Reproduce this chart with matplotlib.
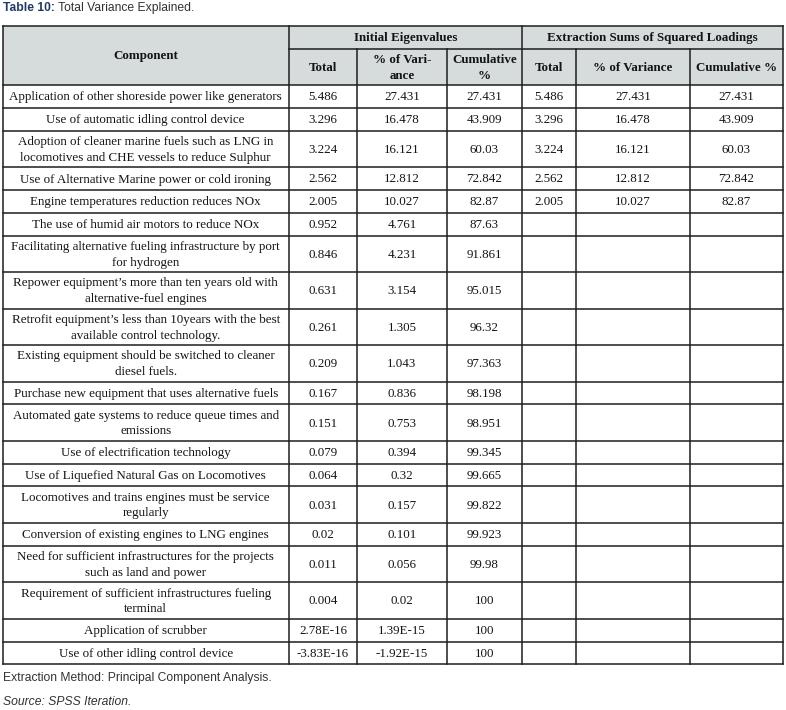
import matplotlib
matplotlib.use('Agg')
import matplotlib.pyplot as plt
from matplotlib.patches import Rectangle

# table content
components = [
    'Application of other shoreside power like generators',
    'Use of automatic idling control device',
    'Adoption of cleaner marine fuels such as LNG in\nlocomotives and CHE vessels to reduce Sulphur',
    'Use of Alternative Marine power or cold ironing',
    'Engine temperatures reduction reduces NOx',
    'The use of humid air motors to reduce NOx',
    'Facilitating alternative fueling infrastructure by port\nfor hydrogen',
    'Repower equipment\u2019s more than ten years old with\nalternative-fuel engines',
    'Retrofit equipment\u2019s less than 10years with the best\navailable control technology.',
    'Existing equipment should be switched to cleaner\ndiesel fuels.',
    'Purchase new equipment that uses alternative fuels',
    'Automated gate systems to reduce queue times and\nemissions',
    'Use of electrification technology',
    'Use of Liquefied Natural Gas on Locomotives',
    'Locomotives and trains engines must be service\nregularly',
    'Conversion of existing engines to LNG engines',
    'Need for sufficient infrastructures for the projects\nsuch as land and power',
    'Requirement of sufficient infrastructures fueling\nterminal',
    'Application of scrubber',
    'Use of other idling control device',
]
init_total = ['5.486', '3.296', '3.224', '2.562', '2.005', '0.952', '0.846', '0.631',
              '0.261', '0.209', '0.167', '0.151', '0.079', '0.064', '0.031', '0.02',
              '0.011', '0.004', '2.78E-16', '-3.83E-16']
init_pct = ['27.431', '16.478', '16.121', '12.812', '10.027', '4.761', '4.231', '3.154',
            '1.305', '1.043', '0.836', '0.753', '0.394', '0.32', '0.157', '0.101',
            '0.056', '0.02', '1.39E-15', '-1.92E-15']
init_cum = ['27.431', '43.909', '60.03', '72.842', '82.87', '87.63', '91.861', '95.015',
            '96.32', '97.363', '98.198', '98.951', '99.345', '99.665', '99.822', '99.923',
            '99.98', '100', '100', '100']
extr_total = ['5.486', '3.296', '3.224', '2.562', '2.005']
extr_pct = ['27.431', '16.478', '16.121', '12.812', '10.027']
extr_cum = ['27.431', '43.909', '60.03', '72.842', '82.87']

group_labels = ['Initial Eigenvalues', 'Extraction Sums of Squared Loadings']
sub_labels = ['Total', '% of Vari-\nance', 'Cumulative\n%',
              'Total', '% of Variance', 'Cumulative %']

caption_bold = 'Table 10:'
caption_rest = ' Total Variance Explained.'
note = 'Extraction Method: Principal Component Analysis.'
source = 'Source: SPSS Iteration.'

# layout (pixels)
W, H = 786, 710
col_x = [2.5, 289, 357, 447, 522, 576, 690, 783]
top, mid, head_bot = 26, 49, 85
h_single, h_double = 22.8, 36.5
line_col = '#1e1e1e'
text_col = '#141414'
head_fill = '#d6dcdc'
serif = ['Liberation Serif', 'DejaVu Serif']
sans = ['Liberation Sans', 'DejaVu Sans']
fs = 9.4
ls = 1.4
dy = 1.0  # small nudge down so glyphs sit centred in the cell

fig = plt.figure(figsize=(W / 100, H / 100), dpi=100)
ax = fig.add_axes([0, 0, 1, 1])
ax.set_xlim(0, W)
ax.set_ylim(H, 0)
ax.axis('off')

# row edges from number of lines in each component label
edges = [head_bot]
for c in components:
    edges.append(edges[-1] + (h_double if '\n' in c else h_single))
bottom = edges[-1]

ax.add_patch(Rectangle((col_x[0], top), col_x[-1] - col_x[0], head_bot - top,
                       facecolor=head_fill, edgecolor='none'))

lw = 1.1
ax.plot([col_x[0], col_x[-1]], [top, top], color=line_col, lw=lw)
ax.plot([col_x[1], col_x[-1]], [mid, mid], color=line_col, lw=lw)
for y in edges:
    ax.plot([col_x[0], col_x[-1]], [y, y], color=line_col, lw=lw)
for i, x in enumerate(col_x):
    y0 = top if i in (0, 1, 4, 7) else mid
    ax.plot([x, x], [y0, bottom], color=line_col, lw=lw)

# header text
ax.text((col_x[0] + col_x[1]) / 2, (top + head_bot) / 2 + dy, 'Component',
        ha='center', va='center', fontsize=fs, fontweight='bold',
        family=serif, color=text_col)
ax.text((col_x[1] + col_x[4]) / 2, (top + mid) / 2 + dy, group_labels[0],
        ha='center', va='center', fontsize=fs, fontweight='bold',
        family=serif, color=text_col)
ax.text((col_x[4] + col_x[7]) / 2, (top + mid) / 2 + dy, group_labels[1],
        ha='center', va='center', fontsize=fs, fontweight='bold',
        family=serif, color=text_col)
for j, lab in enumerate(sub_labels):
    ax.text((col_x[j + 1] + col_x[j + 2]) / 2, (mid + head_bot) / 2 + dy, lab,
            ha='center', va='center', fontsize=fs, fontweight='bold',
            family=serif, color=text_col, linespacing=ls)

# body text
columns = [init_total, init_pct, init_cum, extr_total, extr_pct, extr_cum]
for i, comp in enumerate(components):
    yc = (edges[i] + edges[i + 1]) / 2 + dy
    ax.text((col_x[0] + col_x[1]) / 2, yc, comp, ha='center', va='center',
            fontsize=fs, family=serif, color=text_col, linespacing=ls)
    for j, vals in enumerate(columns):
        if i < len(vals):
            ax.text((col_x[j + 1] + col_x[j + 2]) / 2, yc, vals[i],
                    ha='center', va='center', fontsize=fs, family=serif,
                    color=text_col)

# caption and notes
t1 = ax.text(3, 8, caption_bold, ha='left', va='center', fontsize=8.75,
             fontweight='bold', family=sans, color='#1f3a68')
fig.canvas.draw()
x_next = t1.get_window_extent().x1
ax.annotate(caption_rest, xy=(x_next, H - 8), xycoords='figure pixels',
            ha='left', va='center', fontsize=8.75, family=sans, color='#333333')
ax.text(3, 678, note, ha='left', va='center', fontsize=8.7, family=sans,
        color='#333333')
ax.text(3, 702, source, ha='left', va='center', fontsize=8.7, family=sans,
        style='italic', color='#333333')

fig.savefig('out.png', dpi=100)
